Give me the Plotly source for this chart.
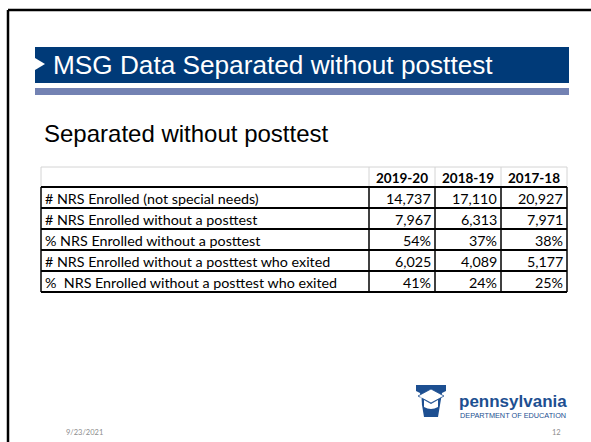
import plotly.graph_objects as go

# ---- data ----
years = ["2019-20", "2018-19", "2017-18"]
row_labels = [
    "# NRS Enrolled (not special needs)",
    "# NRS Enrolled without a posttest",
    "% NRS Enrolled without a posttest",
    "# NRS Enrolled without a posttest who exited",
    "%  NRS Enrolled without a posttest who exited",
]
enrolled = [14737, 17110, 20927]
without_posttest = [7967, 6313, 7971]
pct_without_posttest = [54, 37, 38]
exited = [6025, 4089, 5177]
pct_exited = [41, 24, 25]

title_text = "MSG Data Separated without posttest"
subtitle_text = "Separated without posttest"
date_text = "9/23/2021"
page_text = "12"

def fmt_n(v):
    return f"{v:,}"

def fmt_p(v):
    return f"{v}%"

rows = [
    [fmt_n(v) for v in enrolled],
    [fmt_n(v) for v in without_posttest],
    [fmt_p(v) for v in pct_without_posttest],
    [fmt_n(v) for v in exited],
    [fmt_p(v) for v in pct_exited],
]

W, H = 591, 442
fig = go.Figure()
fig.add_trace(go.Scatter(x=[0, W], y=[0, H], mode="markers",
                         marker=dict(opacity=0), hoverinfo="skip", showlegend=False))

shapes = []
ann = []

# slide frame
shapes.append(dict(type="line", x0=8, y0=10, x1=W + 5, y1=10, line=dict(color="black", width=2.5)))
shapes.append(dict(type="line", x0=8, y0=10, x1=8, y1=H + 5, line=dict(color="black", width=2.5)))

# title banner
shapes.append(dict(type="rect", x0=35, y0=47, x1=569, y1=83, fillcolor="#003a78", line=dict(width=0)))
shapes.append(dict(type="rect", x0=35, y0=88, x1=569, y1=95, fillcolor="#7382b3", line=dict(width=0)))
shapes.append(dict(type="path", path="M35,58 L45,64 L35,70 Z", fillcolor="white", line=dict(width=0)))
ann.append(dict(x=51, y=65, text=title_text, xanchor="left", yanchor="middle", showarrow=False,
                font=dict(family="Liberation Sans, Arial", size=26.2, color="white")))

# subtitle
ann.append(dict(x=42, y=133, text=subtitle_text, xanchor="left", yanchor="middle", showarrow=False,
                font=dict(family="Liberation Sans, Arial", size=24, color="black")))

# table geometry
col_x = [41, 369, 435, 501, 567]
hdr_top, hdr_bot = 167, 187
row_h = 21
row_y = [hdr_bot + row_h * i for i in range(len(row_labels) + 1)]
tfont = "Lato, Carlito, Calibri, sans-serif"

# header (light gray lines)
gray = "#d4d4d4"
shapes.append(dict(type="line", x0=col_x[0], y0=hdr_top, x1=col_x[-1], y1=hdr_top, line=dict(color=gray, width=1)))
shapes.append(dict(type="line", x0=col_x[0], y0=hdr_top, x1=col_x[0], y1=hdr_bot, line=dict(color=gray, width=1)))
for cx in col_x[1:]:
    shapes.append(dict(type="line", x0=cx, y0=hdr_top, x1=cx, y1=hdr_bot, line=dict(color=gray, width=1)))
for j, yr in enumerate(years):
    ann.append(dict(x=(col_x[j + 1] + col_x[j + 2]) / 2, y=(hdr_top + hdr_bot) / 2 + 1, text=f"<b>{yr}</b>",
                    xanchor="center", yanchor="middle", showarrow=False,
                    font=dict(family=tfont, size=13.5, color="black")))

# body lines
for yy in row_y:
    shapes.append(dict(type="line", x0=col_x[0], y0=yy, x1=col_x[-1], y1=yy, line=dict(color="black", width=2)))
for cx in col_x:
    shapes.append(dict(type="line", x0=cx, y0=row_y[0], x1=cx, y1=row_y[-1], line=dict(color="black", width=1.5)))

for i, lab in enumerate(row_labels):
    yc = (row_y[i] + row_y[i + 1]) / 2 + 1
    ann.append(dict(x=col_x[0] + 2, y=yc, text=lab, xanchor="left", yanchor="middle", showarrow=False,
                    font=dict(family=tfont, size=14.3, color="black")))
    for j, v in enumerate(rows[i]):
        ann.append(dict(x=col_x[j + 2] - 2, y=yc, text=v, xanchor="right", yanchor="middle", showarrow=False,
                        font=dict(family=tfont, size=14.3, color="black")))

# logo: keystone with mortarboard
kb = "#1d4f91"
shapes.append(dict(type="path",
                   path="M416,385 L446,385 L446,391 L442,393 L438,417 L424,417 L420,393 L416,391 Z",
                   fillcolor=kb, line=dict(width=0)))
shapes.append(dict(type="path", path="M418,396 L431,389 L444,396 L431,403 Z", fillcolor="white",
                   line=dict(color=kb, width=0.8)))
shapes.append(dict(type="path", path="M424,400 L424,407 Q431,411 438,407 L438,400 L431,404 Z",
                   fillcolor="white", line=dict(width=0)))
shapes.append(dict(type="line", x0=421, y0=397, x1=421, y1=404, line=dict(color="white", width=1.2)))
ann.append(dict(x=457, y=401, text="<b>pennsylvania</b>", xanchor="left", yanchor="middle", showarrow=False,
                font=dict(family="Liberation Sans, Arial", size=17, color=kb)))
ann.append(dict(x=458, y=415, text="DEPARTMENT OF EDUCATION", xanchor="left", yanchor="middle", showarrow=False,
                font=dict(family="Liberation Sans, Arial", size=7.3, color=kb)))

# footer
ann.append(dict(x=84, y=432, text=date_text, xanchor="center", yanchor="middle", showarrow=False,
                font=dict(family=tfont, size=7.5, color="#8c8c8c")))
ann.append(dict(x=556, y=432, text=page_text, xanchor="center", yanchor="middle", showarrow=False,
                font=dict(family=tfont, size=7.5, color="#8c8c8c")))

fig.update_layout(
    width=W, height=H, margin=dict(l=0, r=0, t=0, b=0),
    paper_bgcolor="white", plot_bgcolor="white",
    xaxis=dict(range=[0, W], visible=False, fixedrange=True),
    yaxis=dict(range=[H, 0], visible=False, fixedrange=True),
    shapes=shapes, annotations=ann, showlegend=False,
)
fig.write_html("out.html", config={"displayModeBar": False},
               post_script="document.body.style.margin='0';document.body.style.padding='0';"
                           "document.body.style.overflow='hidden';")
